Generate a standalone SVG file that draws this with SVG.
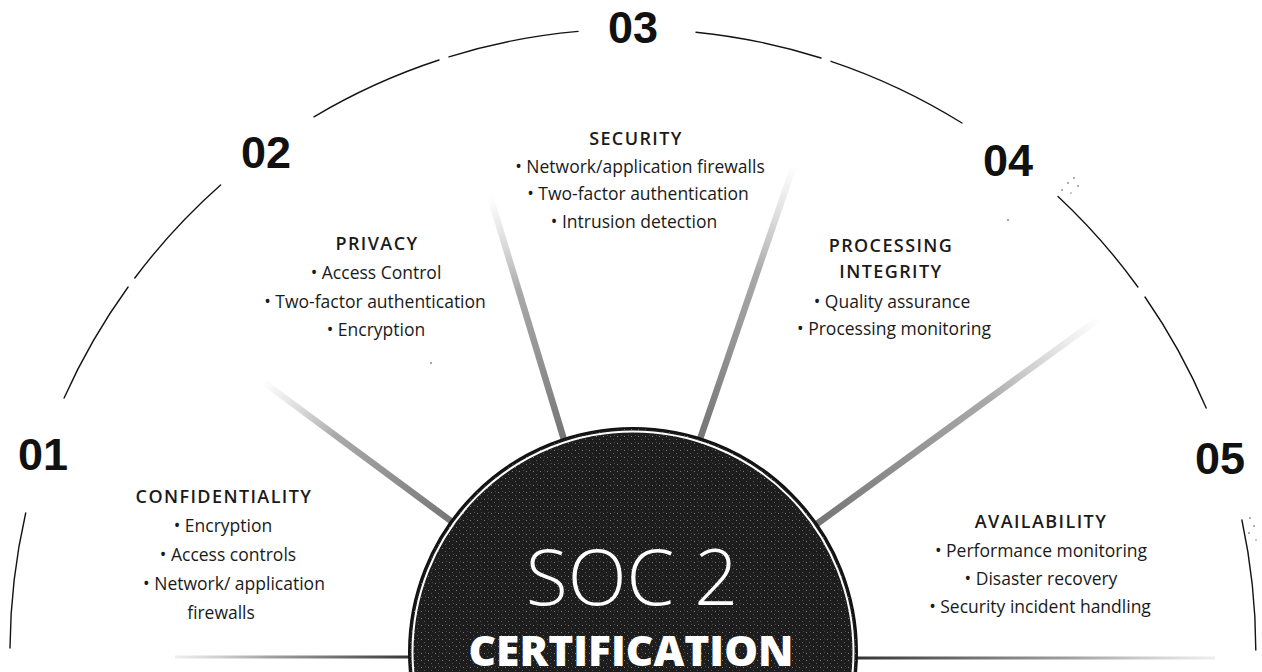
<svg xmlns="http://www.w3.org/2000/svg" width="1262" height="672" viewBox="0 0 1262 672">
<style>
.arc{fill:none;stroke:#141414;stroke-width:1.4;stroke-linecap:round}
.num{font-family:"Liberation Sans",Arial,sans-serif;font-weight:700;font-size:45px;fill:#111}
.h{font-family:"Open Sans","Liberation Sans",sans-serif;font-weight:600;font-size:18px;letter-spacing:1.4px;fill:#1a1a1a;text-anchor:middle}
.b{font-family:"Open Sans","Liberation Sans",sans-serif;font-weight:400;font-size:17.5px;fill:#1a1a1a;text-anchor:middle}
.spoke{fill:none;stroke-width:6.5;stroke-linecap:butt}
.speck{fill:#8a8a8a}
</style>
<defs>
<pattern id="grain" width="7" height="7" patternUnits="userSpaceOnUse">
<rect width="7" height="7" fill="#1d1d1d"/>
<rect x="1" y="2" width="1" height="1" fill="#7a7a7a"/>
<rect x="4" y="5" width="1" height="1" fill="#5a5a5a"/>
<rect x="5" y="1" width="1" height="1" fill="#4a4a4a"/>
</pattern>
<linearGradient id="gA" gradientUnits="userSpaceOnUse" x1="447" y1="518" x2="262" y2="381"><stop offset="0" stop-color="#777"/><stop offset="0.6" stop-color="#9a9a9a" stop-opacity="0.85"/><stop offset="1" stop-color="#bbb" stop-opacity="0"/></linearGradient>
<linearGradient id="gB" gradientUnits="userSpaceOnUse" x1="562" y1="433" x2="490" y2="196"><stop offset="0" stop-color="#777"/><stop offset="0.6" stop-color="#9a9a9a" stop-opacity="0.85"/><stop offset="1" stop-color="#bbb" stop-opacity="0"/></linearGradient>
<linearGradient id="gC" gradientUnits="userSpaceOnUse" x1="702" y1="432" x2="794" y2="165"><stop offset="0" stop-color="#777"/><stop offset="0.6" stop-color="#9a9a9a" stop-opacity="0.85"/><stop offset="1" stop-color="#bbb" stop-opacity="0"/></linearGradient>
<linearGradient id="gD" gradientUnits="userSpaceOnUse" x1="822" y1="520" x2="1100" y2="318"><stop offset="0" stop-color="#777"/><stop offset="0.6" stop-color="#9a9a9a" stop-opacity="0.85"/><stop offset="1" stop-color="#bbb" stop-opacity="0"/></linearGradient>
<linearGradient id="gL" gradientUnits="userSpaceOnUse" x1="412" y1="657" x2="175" y2="657"><stop offset="0" stop-color="#333"/><stop offset="0.6" stop-color="#888" stop-opacity="0.8"/><stop offset="1" stop-color="#aaa" stop-opacity="0.2"/></linearGradient>
<linearGradient id="gR" gradientUnits="userSpaceOnUse" x1="855" y1="658" x2="1215" y2="658"><stop offset="0" stop-color="#333"/><stop offset="0.6" stop-color="#888" stop-opacity="0.8"/><stop offset="1" stop-color="#aaa" stop-opacity="0.2"/></linearGradient>
</defs>
<rect width="1262" height="672" fill="#ffffff"/>

<g id="outer-arc">
<path class="arc" d="M10,648 A623,623 0 0 1 25.7,513"/>
<path class="arc" d="M64.1,398 A623,623 0 0 1 128.1,287"/>
<path class="arc" d="M134.8,278 A623,623 0 0 1 220.6,185"/>
<path class="arc" d="M314,116.8 A623,623 0 0 1 439,60"/>
<path class="arc" d="M449,56.8 A623,623 0 0 1 578,31.4"/>
<path class="arc" d="M696,32.2 A623,623 0 0 1 821,58"/>
<path class="arc" d="M831,61.3 A623,623 0 0 1 962,123"/>
<path class="arc" d="M1058,196.5 A623,623 0 0 1 1137.9,287"/>
<path class="arc" d="M1145,297 A623,623 0 0 1 1206.2,408"/>
<path class="arc" d="M1241.9,520 A623,623 0 0 1 1255.8,650"/>
</g>

<g id="connectors">
<line class="spoke" x1="455" y1="524" x2="262" y2="381" stroke="url(#gA)"/>
<line class="spoke" x1="565" y1="443" x2="490" y2="196" stroke="url(#gB)"/>
<line class="spoke" x1="699" y1="442" x2="794" y2="165" stroke="url(#gC)"/>
<line class="spoke" x1="814" y1="526" x2="1100" y2="318" stroke="url(#gD)"/>
<line x1="175" y1="657" x2="414" y2="657" stroke="url(#gL)" stroke-width="3"/>
<line x1="852" y1="658" x2="1215" y2="658" stroke="url(#gR)" stroke-width="3"/>
</g>

<g id="specks">
<circle class="speck" cx="1062" cy="190" r="0.9"/>
<circle class="speck" cx="1068" cy="183" r="0.9"/>
<circle class="speck" cx="1074" cy="178" r="0.9"/>
<circle class="speck" cx="1078" cy="186" r="0.9"/>
<circle class="speck" cx="1071" cy="193" r="0.8"/>
<circle class="speck" cx="1250" cy="518" r="0.9"/>
<circle class="speck" cx="1254" cy="526" r="0.9"/>
<circle class="speck" cx="1249" cy="533" r="0.9"/>
<circle class="speck" cx="1256" cy="540" r="0.8"/>
<circle class="speck" cx="431" cy="363" r="1"/>
<circle class="speck" cx="1008" cy="220" r="1"/>
</g>

<g id="center">
<circle cx="633" cy="652" r="224" fill="url(#grain)" stroke="#111" stroke-width="2"/>
<circle cx="633" cy="652" r="220.5" fill="none" stroke="#ffffff" stroke-width="2"/>
<text x="632" y="605" text-anchor="middle" font-family="'Open Sans',sans-serif" font-weight="300" font-size="77" fill="#ffffff">SOC 2</text>
<text x="631" y="666" text-anchor="middle" font-family="'Open Sans',sans-serif" font-weight="800" font-size="42.5" fill="#ffffff">CERTIFICATION</text>
</g>

<g id="n01">
<text class="num" x="18" y="470">01</text>
<text class="h" x="224" y="503">CONFIDENTIALITY</text>
<text class="b" x="223" y="532">• Encryption</text>
<text class="b" x="228" y="561">• Access controls</text>
<text class="b" x="234" y="590">• Network/ application</text>
<text class="b" x="221" y="619">firewalls</text>
</g>

<g id="n02">
<text class="num" x="241" y="168">02</text>
<text class="h" x="377" y="250">PRIVACY</text>
<text class="b" x="376" y="279">• Access Control</text>
<text class="b" x="375" y="308">• Two-factor authentication</text>
<text class="b" x="376" y="336">• Encryption</text>
</g>

<g id="n03">
<text class="num" x="608" y="43">03</text>
<text class="h" x="636" y="145">SECURITY</text>
<text class="b" x="640" y="173">• Network/application firewalls</text>
<text class="b" x="638" y="200">• Two-factor authentication</text>
<text class="b" x="634" y="228">• Intrusion detection</text>
</g>

<g id="n04">
<text class="num" x="983" y="176">04</text>
<text class="h" x="891" y="252">PROCESSING</text>
<text class="h" x="891" y="278">INTEGRITY</text>
<text class="b" x="892" y="308">• Quality assurance</text>
<text class="b" x="894" y="335">• Processing monitoring</text>
</g>

<g id="n05">
<text class="num" x="1195" y="474">05</text>
<text class="h" x="1041" y="528">AVAILABILITY</text>
<text class="b" x="1041" y="557">• Performance monitoring</text>
<text class="b" x="1041" y="585">• Disaster recovery</text>
<text class="b" x="1040" y="613">• Security incident handling</text>
</g>
</svg>
